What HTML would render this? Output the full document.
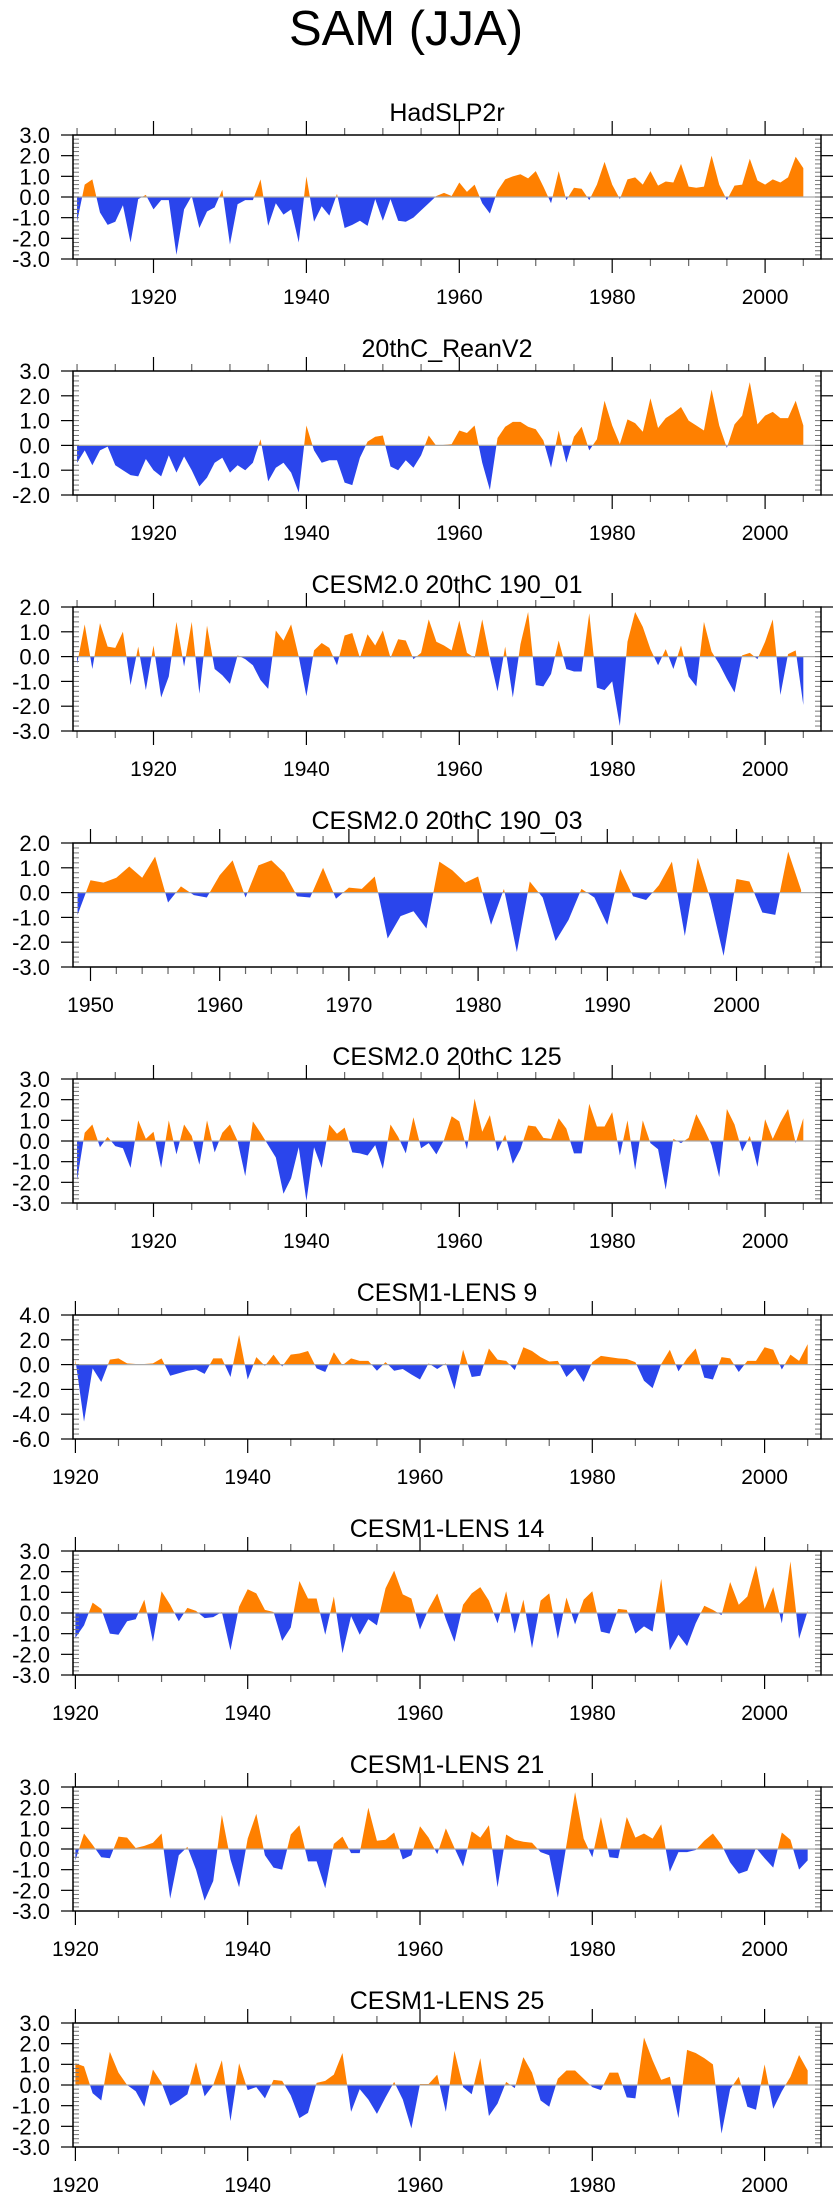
<!DOCTYPE html>
<html><head><meta charset="utf-8"><title>SAM (JJA)</title>
<style>html,body{margin:0;padding:0;background:#fff;}svg{display:block;font-family:"Liberation Sans",Arial,sans-serif;}</style>
</head><body>
<svg id="chart" width="840" height="2200" viewBox="0 0 840 2200" xmlns="http://www.w3.org/2000/svg">
<text x="406" y="45" font-size="49" text-anchor="middle" fill="#000">SAM (JJA)</text>
</svg>
<script>
const titles = ["HadSLP2r","20thC_ReanV2","CESM2.0 20thC 190_01","CESM2.0 20thC 190_03","CESM2.0 20thC 125","CESM1-LENS 9","CESM1-LENS 14","CESM1-LENS 21","CESM1-LENS 25"];
const startYears = [1910,1910,1910,1949,1910,1920,1920,1920,1920];
const yMins = [-3,-2,-3,-3,-3,-6,-3,-3,-3];
const yMaxs = [3,3,2,2,3,4,3,3,3];
const yTickSteps = [1,1,1,1,1,2,1,1,1];
const xTickLabelsA = [1920,1940,1960,1980,2000];
const xTickLabelsB = [1950,1960,1970,1980,1990,2000];

const p1Values = [-1.2,0.6,0.85,-0.75,-1.35,-1.2,-0.4,-2.2,-0.1,0.1,
-0.6,-0.15,-0.15,-2.8,-0.6,0.05,-1.5,-0.7,-0.5,0.35,
-2.3,-0.35,-0.15,-0.15,0.85,-1.4,-0.3,-0.85,-0.6,-2.2,
1.0,-1.2,-0.45,-0.9,0.15,-1.5,-1.35,-1.15,-1.4,-0.1,
-1.15,-0.1,-1.15,-1.2,-1.0,-0.65,-0.3,0.05,0.2,0.05,
0.7,0.25,0.6,-0.3,-0.8,0.3,0.85,1.0,1.1,0.9,
1.25,0.5,-0.3,1.25,-0.15,0.45,0.4,-0.15,0.6,1.7,
0.6,-0.1,0.85,0.95,0.6,1.25,0.55,0.75,0.7,1.6,
0.5,0.45,0.5,2.0,0.6,-0.15,0.55,0.6,1.85,0.8,
0.6,0.85,0.7,0.95,1.95,1.4];
const p2Values = [-0.7,-0.2,-0.8,-0.2,-0.05,-0.8,-1.0,-1.2,-1.25,-0.55,
-1.0,-1.25,-0.4,-1.1,-0.45,-1.0,-1.65,-1.3,-0.7,-0.5,
-1.1,-0.8,-1.0,-0.7,0.25,-1.45,-0.9,-0.7,-1.1,-1.9,
0.8,-0.2,-0.7,-0.6,-0.6,-1.5,-1.6,-0.5,0.15,0.35,
0.4,-0.85,-1.0,-0.6,-0.9,-0.4,0.4,-0.02,0.02,0.05,
0.6,0.5,0.8,-0.7,-1.8,0.3,0.75,0.95,0.95,0.75,
0.65,0.2,-0.9,0.6,-0.7,0.35,0.75,-0.2,0.25,1.8,
0.8,0.05,1.05,0.9,0.55,1.9,0.7,1.1,1.3,1.55,
1.0,0.8,0.6,2.25,0.8,-0.1,0.85,1.2,2.55,0.85,
1.2,1.35,1.1,1.1,1.8,0.8];
const p3Values = [-0.3,1.3,-0.5,1.35,0.4,0.35,1.0,-1.15,0.4,-1.35,
0.45,-1.65,-0.8,1.4,-0.4,1.4,-1.5,1.25,-0.5,-0.75,
-1.1,0.05,-0.1,-0.35,-0.95,-1.3,1.05,0.65,1.3,0.0,
-1.6,0.25,0.55,0.35,-0.35,0.85,0.95,-0.05,0.9,0.45,
1.05,-0.05,0.7,0.65,-0.1,0.15,1.5,0.6,0.45,0.25,
1.45,0.15,-0.05,1.5,-0.05,-1.4,0.4,-1.65,0.5,1.8,
-1.15,-1.2,-0.7,0.65,-0.5,-0.6,-0.6,1.75,-1.25,-1.35,
-1.0,-2.8,0.6,1.8,1.2,0.3,-0.35,0.3,-0.5,0.45,
-0.8,-1.2,1.4,0.2,-0.3,-0.9,-1.45,0.05,0.15,-0.1,
0.6,1.5,-1.55,0.1,0.25,-1.95];
const p4Values = [-0.9,
0.5,0.4,0.6,1.05,0.6,1.45,-0.4,0.25,-0.1,-0.2,
0.7,1.3,-0.2,1.1,1.3,0.8,-0.15,-0.2,1.0,-0.25,
0.2,0.15,0.65,-1.85,-0.95,-0.75,-1.45,1.25,0.9,0.4,
0.65,-1.3,0.15,-2.4,0.45,-0.2,-1.95,-1.1,0.15,-0.2,
-1.3,0.95,-0.15,-0.3,0.3,1.25,-1.75,1.4,-0.3,-2.55,
0.55,0.45,-0.8,-0.9,1.65,0.1];
const p5Values = [-1.9,0.4,0.8,-0.3,0.2,-0.25,-0.35,-1.3,1.0,0.1,
0.45,-1.3,1.0,-0.65,0.8,0.25,-1.15,1.0,-0.55,0.4,
0.8,0.0,-1.7,0.95,0.4,-0.2,-0.8,-2.55,-1.8,-0.3,
-2.9,-0.3,-1.3,0.8,0.35,0.65,-0.55,-0.6,-0.7,-0.2,
-1.35,0.8,0.2,-0.6,1.15,-0.35,-0.1,-0.65,0.05,1.2,
0.95,-0.4,2.05,0.45,1.25,-0.5,0.3,-1.1,-0.4,0.75,
0.7,0.15,0.1,1.1,0.6,-0.6,-0.6,1.8,0.7,0.7,
1.4,-0.7,1.0,-1.4,1.0,-0.1,-0.4,-2.35,0.1,-0.1,
0.15,1.3,0.6,-0.2,-1.75,1.55,0.8,-0.5,0.25,-1.25,
1.05,0.1,0.9,1.55,-0.1,1.1];
const p6Values = [0.4,-4.6,-0.3,-1.4,0.4,0.5,0.1,0.05,0.05,0.1,
0.5,-0.9,-0.7,-0.5,-0.4,-0.75,0.5,0.5,-1.0,2.4,
-1.2,0.6,-0.1,0.8,-0.15,0.8,0.9,1.1,-0.3,-0.6,
1.0,-0.05,0.5,0.3,0.3,-0.5,0.2,-0.5,-0.35,-0.8,
-1.2,0.1,-0.35,0.1,-2.0,1.2,-1.0,-0.9,1.3,0.4,
0.3,-0.45,1.4,1.1,0.6,0.25,0.3,-1.0,-0.3,-1.4,
0.2,0.7,0.6,0.5,0.45,0.2,-1.3,-1.9,0.05,1.2,
-0.55,0.5,1.3,-1.05,-1.2,0.6,0.5,-0.6,0.3,0.3,
1.4,1.2,-0.4,0.8,0.3,1.65];
const p7Values = [-1.2,-0.6,0.5,0.2,-1.0,-1.05,-0.4,-0.3,0.65,-1.4,
1.05,0.4,-0.4,0.25,0.1,-0.25,-0.2,0.05,-1.8,0.3,
1.15,0.95,0.15,0.05,-1.35,-0.7,1.55,0.7,0.7,-1.05,
0.8,-1.95,-0.15,-1.05,-0.3,-0.6,1.2,2.05,0.9,0.7,
-0.8,0.2,0.95,-0.3,-1.4,0.4,0.95,1.25,0.6,-0.5,
1.05,-1.0,0.65,-1.7,0.6,0.95,-1.25,0.75,-0.55,0.65,
1.05,-0.9,-1.0,0.2,0.15,-1.0,-0.65,-0.9,1.65,-1.8,
-1.05,-1.6,-0.5,0.35,0.15,-0.1,1.5,0.4,0.8,2.3,
0.2,1.25,-0.5,2.5,-1.25,0.1];
const p8Values = [-0.55,0.75,0.2,-0.4,-0.45,0.6,0.55,0.05,0.15,0.3,
0.75,-2.4,-0.3,0.1,-1.0,-2.5,-1.55,1.65,-0.5,-1.85,
0.5,1.7,-0.3,-0.9,-1.0,0.7,1.15,-0.6,-0.6,-1.9,
0.25,0.6,-0.2,-0.2,2.0,0.4,0.45,0.8,-0.5,-0.3,
1.1,0.55,-0.25,1.0,0.05,-0.85,0.85,0.55,1.15,-1.85,
0.7,0.45,0.35,0.3,-0.15,-0.3,-2.35,0.2,2.75,0.5,
-0.4,1.55,-0.4,-0.45,1.55,0.55,0.75,0.5,1.2,-1.1,
-0.15,-0.15,-0.05,0.4,0.75,0.2,-0.65,-1.2,-1.05,0.05,
-0.45,-0.9,0.8,0.45,-1.0,-0.55];
const p9Values = [1.05,0.9,-0.4,-0.75,1.6,0.6,0.0,-0.3,-1.05,0.75,
0.1,-1.0,-0.75,-0.45,1.1,-0.55,0.0,1.2,-1.75,1.05,
-0.25,-0.1,-0.65,0.25,0.2,-0.5,-1.6,-1.35,0.1,0.2,
0.5,1.55,-1.3,-0.2,-0.7,-1.4,-0.6,0.15,-0.7,-2.1,
0.05,0.05,0.5,-1.3,1.65,-0.1,-0.45,1.3,-1.5,-0.9,
0.15,-0.15,1.35,0.6,-0.75,-1.05,0.3,0.7,0.7,0.3,
-0.1,-0.25,0.6,0.6,-0.6,-0.65,2.3,1.2,0.25,0.4,
-1.6,1.7,1.55,1.3,1.0,-2.35,-0.2,0.4,-1.05,-1.2,
1.0,-1.15,-0.3,0.4,1.45,0.7];
const allValues = [p1Values,p2Values,p3Values,p4Values,p5Values,p6Values,p7Values,p8Values,p9Values];

const NS = "http://www.w3.org/2000/svg";
const svg = document.getElementById("chart");
const BOX_L = 73, BOX_R = 821, BOX_H = 124;
const ORANGE = "#ff8000", BLUE = "#2a45ec";

function mk(tag, attrs, parent) {
  const e = document.createElementNS(NS, tag);
  for (const k in attrs) e.setAttribute(k, attrs[k]);
  (parent || svg).appendChild(e);
  return e;
}
function xAxisFor(i) {
  if (i === 3) return { ref: 1950, refX: 90.5, ppy: 12.92, labels: xTickLabelsB, minor: 2 };
  if (i >= 5) return { ref: 1920, refX: 75.4, ppy: 8.615, labels: xTickLabelsA, minor: 5 };
  return { ref: 1920, refX: 153.5, ppy: 7.645, labels: xTickLabelsA, minor: 5 };
}

for (let i = 0; i < 9; i++) {
  const top = 135 + 236 * i, bot = top + BOX_H;
  const ax = xAxisFor(i);
  const xOf = yr => ax.refX + (yr - ax.ref) * ax.ppy;
  const ymin = yMins[i], ymax = yMaxs[i];
  const yOf = v => bot - (v - ymin) / (ymax - ymin) * BOX_H;
  const vals = allValues[i];
  const g = mk("g", {});
  
  

  const t = mk("text", { x: 447, y: top - 14, "font-size": 25, "text-anchor": "middle", fill: "#000" }, g);
  
  
  t.textContent = titles[i];

  const y0 = yOf(0);
  let pts = [];
  vals.forEach((v, k) => pts.push(xOf(startYears[i] + k).toFixed(2) + "," + yOf(v).toFixed(2)));
  const xFirst = xOf(startYears[i]), xLast = xOf(startYears[i] + vals.length - 1);
  pts.push(xLast.toFixed(2) + "," + y0.toFixed(2));
  pts.push(xFirst.toFixed(2) + "," + y0.toFixed(2));
  const cpPos = mk("clipPath", { id: "pos" + i }, g);
  mk("rect", { x: BOX_L, y: top, width: BOX_R - BOX_L, height: y0 - top }, cpPos);
  const cpNeg = mk("clipPath", { id: "neg" + i }, g);
  mk("rect", { x: BOX_L, y: y0, width: BOX_R - BOX_L, height: bot - y0 }, cpNeg);
  const ap = mk("polygon", { points: pts.join(" "), fill: ORANGE, "clip-path": "url(#pos" + i + ")" }, g);
  
  
  const an = mk("polygon", { points: pts.join(" "), fill: BLUE, "clip-path": "url(#neg" + i + ")" }, g);
  
  
  const zl = mk("line", { x1: BOX_L, x2: BOX_R, y1: y0, y2: y0, stroke: "#aaa", "stroke-width": 1.2 }, g);
  
  

  const step = yTickSteps[i], minorStep = step / 5;
  for (let v = ymin; v <= ymax + 1e-9; v += minorStep) {
    const yy = yOf(v);
    mk("line", { x1: BOX_L, x2: BOX_L + 6, y1: yy, y2: yy, stroke: "#777", "stroke-width": 1 }, g);
    mk("line", { x1: BOX_R - 6, x2: BOX_R, y1: yy, y2: yy, stroke: "#777", "stroke-width": 1 }, g);
  }
  for (let v = ymin; v <= ymax + 1e-9; v += step) {
    const yy = yOf(v);
    mk("line", { x1: BOX_L - 12, x2: BOX_L, y1: yy, y2: yy, stroke: "#000", "stroke-width": 1.2 }, g);
    mk("line", { x1: BOX_R, x2: BOX_R + 12, y1: yy, y2: yy, stroke: "#000", "stroke-width": 1.2 }, g);
    const lb = mk("text", { x: BOX_L - 23, y: yy + 8, "font-size": 22, "text-anchor": "end", fill: "#000" }, g);
    
    
    lb.textContent = v.toFixed(1);
  }
  const yrL = ax.ref + (BOX_L - ax.refX) / ax.ppy, yrR = ax.ref + (BOX_R - ax.refX) / ax.ppy;
  for (let yr = Math.ceil(yrL / ax.minor) * ax.minor; yr <= yrR; yr += ax.minor) {
    const xx = xOf(yr);
    const major = ax.labels.indexOf(yr) >= 0;
    const len = major ? 14 : 7;
    mk("line", { x1: xx, x2: xx, y1: top - len, y2: top, stroke: major ? "#000" : "#666", "stroke-width": 1.2 }, g);
    mk("line", { x1: xx, x2: xx, y1: bot, y2: bot + len, stroke: major ? "#000" : "#666", "stroke-width": 1.2 }, g);
  }
  ax.labels.forEach(yr => {
    const lb = mk("text", { x: xOf(yr), y: bot + 45, "font-size": 21, "text-anchor": "middle", fill: "#000" }, g);
    
    
    lb.textContent = yr;
  });
  const box = mk("rect", { x: BOX_L, y: top, width: BOX_R - BOX_L, height: BOX_H, fill: "none", stroke: "#000", "stroke-width": 1.5 }, g);
  
  
}
</script>
</body></html>
